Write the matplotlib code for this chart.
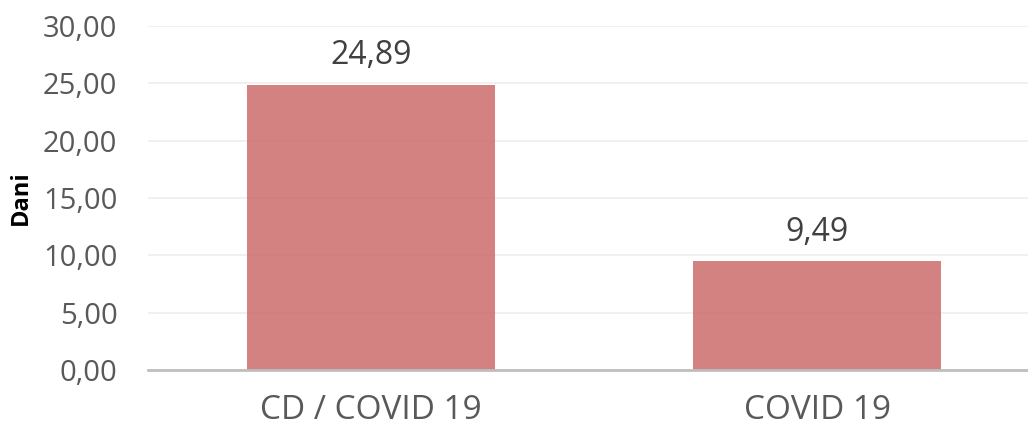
import matplotlib
matplotlib.use("Agg")
import matplotlib.pyplot as plt
from matplotlib.ticker import FuncFormatter

categories = ["CD / COVID 19", "COVID 19"]
values = [24.89, 9.49]
y_ticks = [0, 5, 10, 15, 20, 25, 30]
y_label = "Dani"

plt.rcParams['font.family'] = ['Open Sans', 'DejaVu Sans']

fig = plt.figure(figsize=(10.28, 4.32), dpi=100)
ax = fig.add_axes([148/1028, 62/432, 892/1028, 344/432])

x = list(range(len(categories)))
bars = ax.bar(x, values, width=0.554, color="#CC6B6B", alpha=0.85, zorder=3)
for xi, v in zip(x, values):
    ax.annotate(f"{v:.2f}".replace(".", ","), (xi, v), xytext=(0, 9), textcoords="offset points",
                ha="center", va="bottom", fontsize=23, color="#404040")

ax.set_xlim(-0.5, 1.5)
ax.set_ylim(0, 30)
ax.set_yticks(y_ticks)
ax.yaxis.set_major_formatter(FuncFormatter(lambda v, p: f"{v:.2f}".replace(".", ",")))
ax.set_xticks(x)
ax.set_xticklabels(categories)
ax.tick_params(axis="both", length=0, colors="#595959", labelsize=21)
ax.tick_params(axis="x", pad=17, labelsize=24)
ax.tick_params(axis="y", pad=22)
ax.grid(axis="y", color="#EEEEEE", linewidth=1.2, zorder=0)
for s in ["top", "right", "left"]:
    ax.spines[s].set_visible(False)
ax.spines["bottom"].set_color("#BFBFBF")
ax.spines["bottom"].set_linewidth(2)
ax.spines["bottom"].set_zorder(4)
ax.set_ylabel(y_label, fontsize=17, fontweight="bold", color="black")
ax.yaxis.set_label_coords(-115/892, 0.5)

fig.savefig("out.png", dpi=100)
